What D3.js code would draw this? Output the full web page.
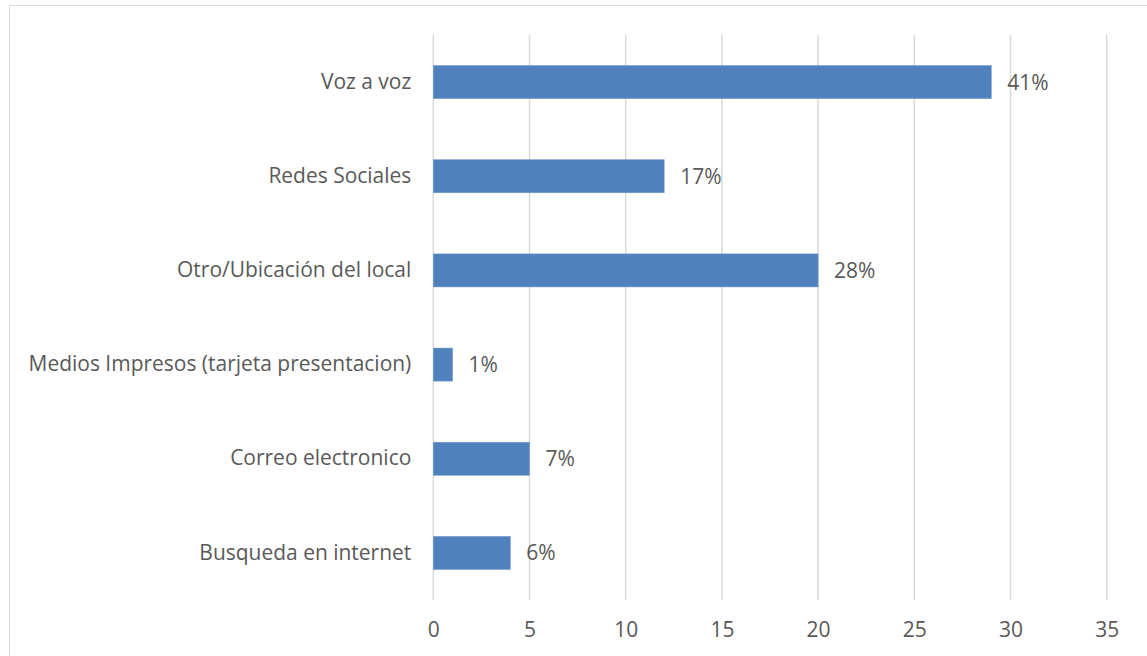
<!DOCTYPE html>
<html>
<head>
<meta charset="utf-8">
<script src="https://cdn.jsdelivr.net/npm/d3@7/dist/d3.min.js"></script>
<style>
  html, body { margin: 0; padding: 0; background: #fff; }
  svg { display: block; }
  text { font-family: "Open Sans", Lato, sans-serif; fill: #595959; }
</style>
</head>
<body>
<svg id="chart" width="1147" height="656"></svg>
<script>
// Categories, top to bottom
const categories = [
  "Voz a voz",
  "Redes Sociales",
  "Otro/Ubicación del local",
  "Medios Impresos (tarjeta presentacion)",
  "Correo electronico",
  "Busqueda en internet"
];
// Counts per category
const counts = [29, 12, 20, 1, 5, 4];
// Share labels printed next to each bar
const shareLabels = ["41%", "17%", "28%", "1%", "7%", "6%"];
// Axis ticks
const xTicks = [0, 5, 10, 15, 20, 25, 30, 35];

const svg = d3.select("#chart");
const W = 1147, H = 656;

// Outer chart-area frame
svg.append("rect")
  .attr("x", 9.5).attr("y", 5.5)
  .attr("width", W + 10).attr("height", H + 10)
  .attr("fill", "none").attr("stroke", "#d9d9d9").attr("stroke-width", 1);

const plot = { left: 433.3, right: 1106.7, top: 35, bottom: 600 };

// Pick a font size so the longest category label spans ~383px
const probe = svg.append("text").style("font-size", "20px").text(categories[3]);
const fontSize = 20 * 383 / probe.node().getComputedTextLength();
probe.remove();
const fs = fontSize.toFixed(2) + "px";

const x = d3.scaleLinear().domain([0, 35]).range([plot.left, plot.right]);
const y = d3.scaleBand().domain(categories).range([plot.top, plot.bottom]).paddingInner(0.66).paddingOuter(0.33);

// Vertical gridlines
svg.append("g").selectAll("line")
  .data(xTicks).join("line")
  .attr("x1", d => x(d)).attr("x2", d => x(d))
  .attr("y1", plot.top).attr("y2", plot.bottom)
  .attr("stroke", "#d9d9d9").attr("stroke-width", 1.5);

// Bars
svg.append("g").selectAll("rect")
  .data(categories).join("rect")
  .attr("x", x(0))
  .attr("y", (d) => y(d) + y.bandwidth() / 2 - 16.5)
  .attr("width", (d, i) => x(counts[i]) - x(0))
  .attr("height", 33)
  .attr("fill", "#4f81bd")
  .attr("stroke", "#6f98cc").attr("stroke-width", 0.6);

// Value labels
svg.append("g").selectAll("text")
  .data(categories).join("text")
  .attr("x", (d, i) => x(counts[i]) + 16)
  .attr("y", d => y(d) + y.bandwidth() / 2)
  .attr("dy", "0.36em")
  .style("font-size", fs)
  .text((d, i) => shareLabels[i]);

// Category labels via D3 axis
const yAxis = svg.append("g")
  .attr("transform", `translate(${plot.left - 22},0)`)
  .call(d3.axisLeft(y).tickSize(0).tickPadding(0));
yAxis.select(".domain").remove();
yAxis.selectAll("text").style("font-size", fs).attr("fill", "#595959").attr("font-family", null);

// X axis labels
const xAxis = svg.append("g")
  .attr("transform", `translate(0,${plot.bottom})`)
  .call(d3.axisBottom(x).tickValues(xTicks).tickSize(0).tickPadding(22));
xAxis.select(".domain").remove();
xAxis.selectAll("text").style("font-size", fs).attr("fill", "#595959").attr("font-family", null);
</script>
</body>
</html>
